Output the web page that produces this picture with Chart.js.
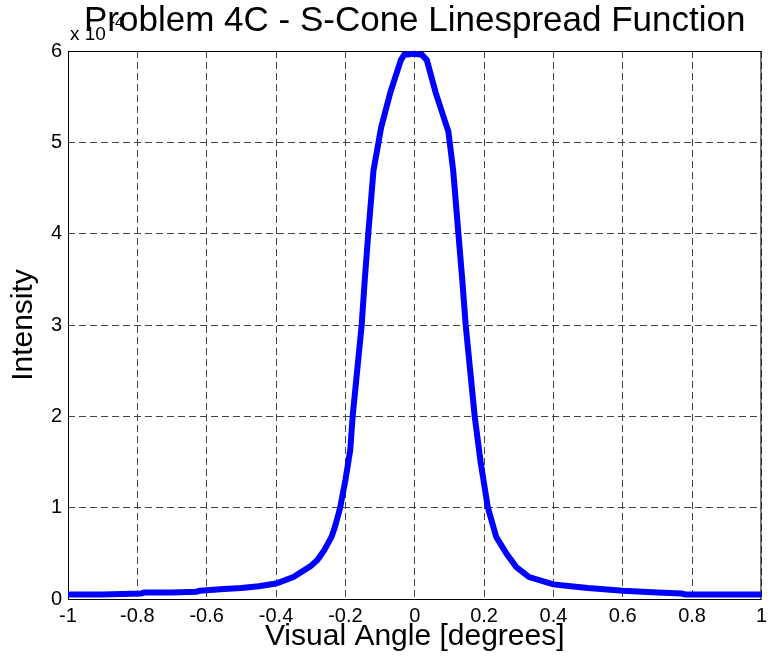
<!DOCTYPE html>
<html>
<head>
<meta charset="utf-8">
<script src="https://cdn.jsdelivr.net/npm/chart.js@4/dist/chart.umd.min.js"></script>
<style>
    html, body { margin: 0; padding: 0; background: #fff; }
    #wrap { width: 772px; height: 669px; }
</style>
</head>
<body>
<div id="wrap"><canvas id="chart" width="772" height="669"></canvas></div>
<script>
// visual angle in degrees
const angles = [-1, -0.9, -0.79, -0.78, -0.7, -0.63, -0.62, -0.55, -0.5, -0.45, -0.4, -0.35,
    -0.3, -0.28, -0.26, -0.24, -0.23, -0.215, -0.2, -0.186, -0.179, -0.166, -0.153, -0.144,
    -0.134, -0.119, -0.103, -0.097, -0.07, -0.04, -0.03, 0, 0.02, 0.035, 0.06, 0.09, 0.097,
    0.111, 0.126, 0.137, 0.147, 0.16, 0.173, 0.19, 0.211, 0.235, 0.264, 0.293, 0.33, 0.4,
    0.45, 0.5, 0.6, 0.7, 0.77, 0.78, 0.9, 1];
// intensity, in units of 1e-4
const intensity = [0.05, 0.05, 0.06, 0.07, 0.07, 0.08, 0.09, 0.11, 0.12, 0.14, 0.17, 0.24,
    0.36, 0.43, 0.54, 0.68, 0.79, 1.0, 1.3, 1.63, 2.0, 2.5, 3.0, 3.5,
    4.0, 4.69, 5.03, 5.16, 5.55, 5.9, 5.96, 5.97, 5.96, 5.9, 5.55, 5.2, 5.12,
    4.69, 4.0, 3.5, 3.0, 2.5, 2.0, 1.5, 1.0, 0.68, 0.5, 0.35, 0.24, 0.16,
    0.14, 0.12, 0.09, 0.07, 0.06, 0.05, 0.05, 0.05];
const xTicks = [-1, -0.8, -0.6, -0.4, -0.2, 0, 0.2, 0.4, 0.6, 0.8, 1];
const yTicks = [0, 1, 2, 3, 4, 5, 6];

const FONT = "'Liberation Sans', Arial, Helvetica, sans-serif";

const points = angles.map((a, i) => ({ x: a, y: intensity[i] }));

// full box around the plot area, like matlab
const boxPlugin = {
    id: 'box',
    beforeDatasetsDraw(chart) {
        const a = chart.chartArea;
        const ctx = chart.ctx;
        ctx.save();
        ctx.strokeStyle = '#000';
        ctx.lineWidth = 1;
        ctx.strokeRect(a.left + 0.5, a.top + 0.5, a.right - a.left - 1, a.bottom - a.top);
        ctx.restore();
    }
};

// "x 10^-4" multiplier above the y axis
const exponentPlugin = {
    id: 'exponent',
    beforeDraw(chart) {
        const ctx = chart.ctx;
        const a = chart.chartArea;
        ctx.save();
        ctx.fillStyle = '#000';
        ctx.textBaseline = 'alphabetic';
        ctx.font = '19px ' + FONT;
        ctx.fillText('x 10', a.left + 2, 40);
        ctx.font = '15px ' + FONT;
        ctx.fillText('-4', a.left + 42, 27);
        ctx.restore();
    }
};

new Chart(document.getElementById('chart'), {
    type: 'line',
    data: {
        datasets: [{
            data: points,
            borderColor: '#0000ff',
            borderWidth: 6,
            pointRadius: 0,
            tension: 0,
            fill: false,
            clip: false
        }]
    },
    options: {
        responsive: false,
        animation: false,
        layout: { padding: { left: 0, right: 6, top: 0, bottom: 0 } },
        plugins: {
            legend: { display: false },
            tooltip: { enabled: false },
            title: {
                display: true,
                fullSize: false,
                text: 'Problem 4C - S-Cone Linespread Function',
                color: '#000',
                font: { family: FONT, size: 35, weight: 'normal', lineHeight: 1.0 },
                padding: { top: 4, bottom: 12 }
            }
        },
        scales: {
            x: {
                type: 'linear',
                min: -1,
                max: 1,
                afterBuildTicks: axis => { axis.ticks = xTicks.map(v => ({ value: v })); },
                afterFit: axis => { axis.height = 70; },
                grid: { color: '#444', lineWidth: 1, drawTicks: false },
                border: { display: false, dash: [7, 4] },
                ticks: {
                    color: '#000',
                    padding: 5,
                    maxRotation: 0,
                    font: { family: FONT, size: 20 },
                    callback: v => String(parseFloat(Number(v).toFixed(1)))
                },
                title: {
                    display: true,
                    text: 'Visual Angle [degrees]',
                    color: '#000',
                    font: { family: FONT, size: 30 },
                    padding: { top: 0, bottom: 14 }
                }
            },
            y: {
                type: 'linear',
                min: 0,
                max: 6,
                afterBuildTicks: axis => { axis.ticks = yTicks.map(v => ({ value: v })); },
                afterFit: axis => { axis.width = 68; },
                grid: { color: '#444', lineWidth: 1, drawTicks: false },
                border: { display: false, dash: [7, 4] },
                ticks: {
                    color: '#000',
                    padding: 6,
                    font: { family: FONT, size: 20 }
                },
                title: {
                    display: true,
                    text: 'Intensity',
                    color: '#000',
                    font: { family: FONT, size: 30 },
                    padding: { top: 6, bottom: 0 }
                }
            }
        }
    },
    plugins: [boxPlugin, exponentPlugin]
});
</script>
</body>
</html>
